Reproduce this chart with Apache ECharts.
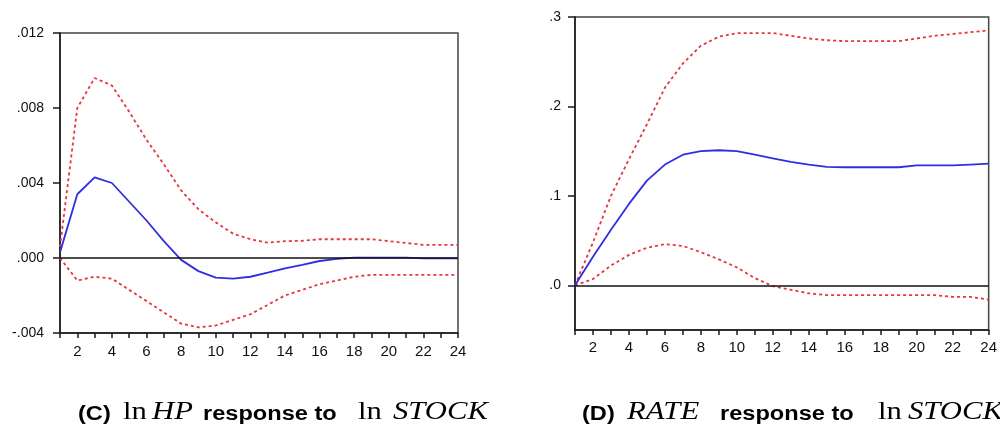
<!DOCTYPE html>
<html>
<head>
<meta charset="utf-8">
<script src="https://cdn.jsdelivr.net/npm/echarts@6/dist/echarts.min.js"></script>
<style>
html,body{margin:0;padding:0;background:#fff;}
#c{width:1000px;height:431px;}
</style>
</head>
<body>
<div id="c"></div>
<script>
// ---- data ----
const periods = [1,2,3,4,5,6,7,8,9,10,11,12,13,14,15,16,17,18,19,20,21,22,23,24];

// (C) ln HP response to ln STOCK
const hpResp  = [0.0003,0.0034,0.0043,0.0040,0.0030,0.0020,0.0009,-0.0001,-0.0007,-0.00105,-0.0011,-0.0010,-0.00078,-0.00055,-0.00037,-0.00016,-0.00005,0.00002,0.00002,0.00002,0.00002,-0.00002,-0.00002,-0.00002];
const hpUpper = [0.0006,0.0080,0.0096,0.0092,0.0078,0.0063,0.0050,0.0036,0.0026,0.0019,0.0013,0.0010,0.00082,0.0009,0.00092,0.0010,0.0010,0.0010,0.0010,0.0009,0.0008,0.0007,0.0007,0.0007];
const hpLower = [0.0000,-0.0012,-0.0010,-0.0011,-0.0017,-0.0023,-0.0029,-0.0035,-0.0037,-0.0036,-0.0033,-0.0030,-0.0025,-0.0020,-0.0017,-0.0014,-0.0012,-0.0010,-0.0009,-0.0009,-0.0009,-0.0009,-0.0009,-0.0009];

// (D) RATE response to ln STOCK
const rateResp  = [0,0.032,0.062,0.091,0.117,0.135,0.146,0.150,0.151,0.150,0.146,0.142,0.138,0.135,0.1325,0.132,0.132,0.132,0.132,0.134,0.134,0.134,0.135,0.136];
const rateUpper = [0,0.048,0.100,0.141,0.180,0.221,0.248,0.268,0.278,0.282,0.282,0.282,0.279,0.276,0.274,0.273,0.273,0.273,0.273,0.276,0.279,0.281,0.283,0.285];
const rateLower = [0,0.007,0.022,0.034,0.042,0.046,0.044,0.037,0.029,0.020,0.008,-0.001,-0.005,-0.009,-0.011,-0.011,-0.011,-0.011,-0.011,-0.011,-0.011,-0.013,-0.013,-0.016];

// tick labels
const hpTicks = [-0.004, 0, 0.004, 0.008, 0.012];
const rateTicks = [0, 0.1, 0.2, 0.3];

// titles: [text, style]
const titleC = [['(C)','b'],['ln','s'],['HP','i'],['response to','b'],['ln','s'],['STOCK','i']];
const titleD = [['(D)','b'],['RATE','i'],['response to','b'],['ln','s'],['STOCK','i']];

// ---- chart ----
const pair = (ys) => periods.map((p, i) => [p, ys[i]]);
const RED = '#e8343c', BLUE = '#2f2fe0', AX = '#1a1a1a';

function fmtHP(v){
  v = Math.round(v*1e6)/1e6;
  const s = Math.abs(v).toFixed(3).replace(/^0/, '');
  return (v < 0 ? '-' : '') + s;
}
function fmtRate(v){
  v = Math.round(v*1e6)/1e6;
  return v.toFixed(1).replace(/^0/, '');
}

function xAxis(gi, margin){
  return {
    type:'value', gridIndex:gi, min:1, max:24, interval:1,
    axisLine:{show:true, onZero:false, lineStyle:{color:AX, width:1.5}},
    axisTick:{show:true, inside:false, length:5, lineStyle:{color:AX, width:1.5}},
    axisLabel:{margin:margin, fontFamily:'Liberation Sans, Arial', fontSize:15, color:'#111',
      formatter:(v)=> (v % 2 === 0 ? String(v) : '')},
    splitLine:{show:false}
  };
}

const lineS = (xi, data, color, dashed, extra) => Object.assign({
  type:'line', xAxisIndex:xi, yAxisIndex:xi, data:data, showSymbol:false, symbol:'none',
  smooth:false, silent:true,
  lineStyle:{color:color, width: dashed ? 1.8 : 1.8, type: dashed ? [3,3] : 'solid'}
}, extra || {});

const zeroLine = {
  silent:true, symbol:['none','none'], label:{show:false},
  lineStyle:{color:'#111', width:1.5, type:'solid'},
  data:[{yAxis:0}], animation:false
};

const titleStyles = {
  b:{font:'bold 20px "Liberation Sans", Arial, sans-serif', dy:0},
  s:{font:'26px "Liberation Serif", "Times New Roman", serif', dy:-2},
  i:{font:'italic 26px "Liberation Serif", "Times New Roman", serif', dy:-2}
};
const titleCX = [78,123,152,203,358,393];
const titleDX = [582,627,720,878,908];

function titleGraphics(segs, xs){
  return segs.map((s, k) => ({
    type:'text', x:xs[k], y:414 + titleStyles[s[1]].dy, scaleX:1.18, silent:true,
    style:{text:s[0], font:titleStyles[s[1]].font, fill:'#000', textAlign:'left', textVerticalAlign:'middle', verticalAlign:'middle'}
  }));
}

const option = {
  animation:false,
  backgroundColor:'#fff',
  grid:[
    {left:60, top:33, width:398, height:300, show:true, borderColor:'#444', borderWidth:1.5, backgroundColor:'transparent'},
    {left:575, top:17, width:414, height:313, show:true, borderColor:'#444', borderWidth:1.5, backgroundColor:'transparent'}
  ],
  xAxis:[xAxis(0, 11), xAxis(1, 10)],
  yAxis:[
    {type:'value', gridIndex:0, min:-0.004, max:0.012, interval:0.004,
     axisLine:{show:true, onZero:false, lineStyle:{color:AX, width:1.5}},
     axisTick:{show:true, length:7, lineStyle:{color:AX, width:1.5}, customValues:hpTicks},
     axisLabel:{margin:16, fontFamily:'Liberation Sans, Arial', fontSize:14, color:'#111', formatter:fmtHP, customValues:hpTicks},
     splitLine:{show:false}},
    {type:'value', gridIndex:1, min:-0.05, max:0.3, interval:0.05,
     axisLine:{show:true, onZero:false, lineStyle:{color:AX, width:1.5}},
     axisTick:{show:true, length:7, lineStyle:{color:AX, width:1.5}, customValues:rateTicks},
     axisLabel:{margin:14, fontFamily:'Liberation Sans, Arial', fontSize:14, color:'#111', formatter:fmtRate, customValues:rateTicks},
     splitLine:{show:false}}
  ],
  series:[
    lineS(0, pair(hpUpper), RED, true, {markLine:zeroLine, z:2}),
    lineS(0, pair(hpLower), RED, true, {z:2}),
    lineS(0, pair(hpResp), BLUE, false, {z:3}),
    lineS(1, pair(rateUpper), RED, true, {markLine:zeroLine, z:2}),
    lineS(1, pair(rateLower), RED, true, {z:2}),
    lineS(1, pair(rateResp), BLUE, false, {z:3})
  ],
  graphic: titleGraphics(titleC, titleCX).concat(titleGraphics(titleD, titleDX))
};

const chart = echarts.init(document.getElementById('c'), null, {renderer:'canvas'});
chart.setOption(option);
</script>
</body>
</html>
